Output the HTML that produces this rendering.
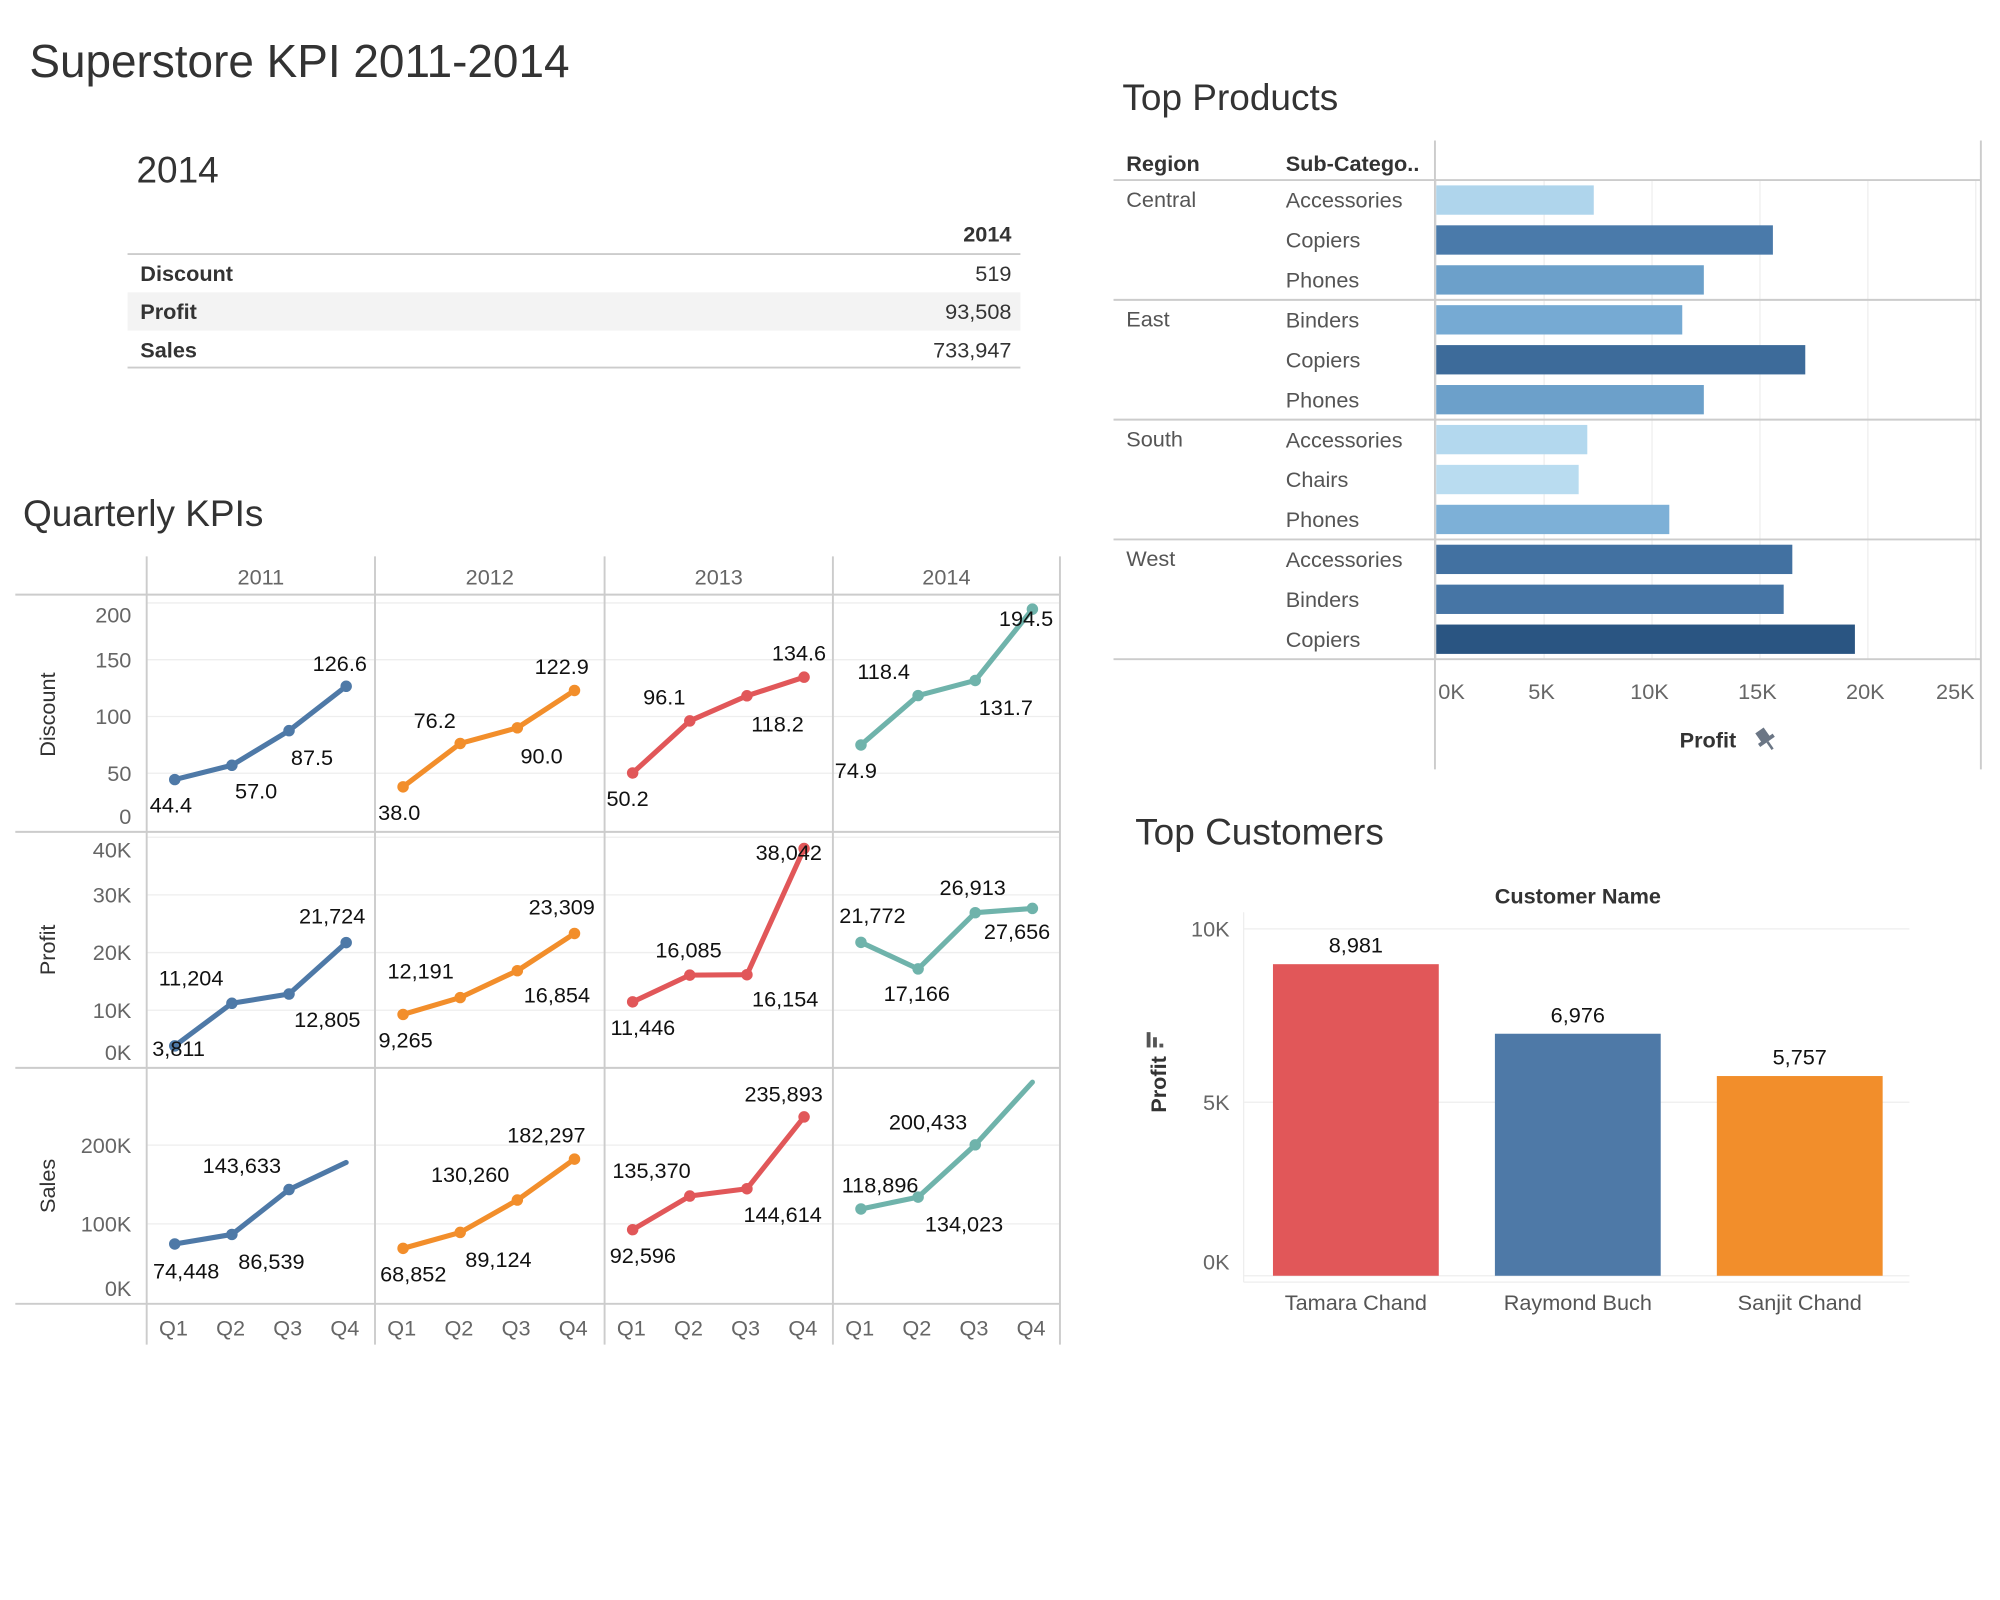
<!DOCTYPE html>
<html><head><meta charset="utf-8"><style>
html,body{margin:0;padding:0;background:#fff;}
svg{display:block;font-family:"Liberation Sans",sans-serif;}
</style></head><body>
<svg id="root" width="2000" height="1600" viewBox="0 0 1568 1254" xmlns="http://www.w3.org/2000/svg">
<text x="23" y="60" font-size="36" fill="#333">Superstore KPI 2011-2014</text>
<text x="107" y="143" font-size="29" fill="#333">2014</text>
<g font-size="17" fill="#333">
<text x="793" y="189" text-anchor="end" font-weight="bold">2014</text>
<line x1="100" y1="199" x2="800" y2="199" stroke="#ccc" stroke-width="1.5"/>
<rect x="100" y="229" width="700" height="30" fill="#f3f3f3"/>
<text x="110" y="220" font-weight="bold">Discount</text>
<text x="793" y="220" text-anchor="end">519</text>
<text x="110" y="250" font-weight="bold">Profit</text>
<text x="793" y="250" text-anchor="end">93,508</text>
<text x="110" y="280" font-weight="bold">Sales</text>
<text x="793" y="280" text-anchor="end">733,947</text>
<line x1="100" y1="288" x2="800" y2="288" stroke="#ccc" stroke-width="1.5"/>
</g>
<text x="18" y="412" font-size="29" fill="#333">Quarterly KPIs</text>
<g id="kpi"></g>
<text x="880" y="86" font-size="29" fill="#333">Top Products</text>
<g id="prod"></g>
<text x="890" y="662" font-size="29" fill="#333">Top Customers</text>
<g id="cust"></g>
</svg>
<script>
const years=["2011","2012","2013","2014"];
const quarters=["Q1","Q2","Q3","Q4"];
const yearColors=["#4e79a7","#f28e2b","#e15759","#6fb3ab"];
const discountValues=[[44.4,57.0,87.5,126.6],[38.0,76.2,90.0,122.9],[50.2,96.1,118.2,134.6],[74.9,118.4,131.7,194.5]];
const profitValues=[[3811,11204,12805,21724],[9265,12191,16854,23309],[11446,16085,16154,38042],[21772,17166,26913,27656]];
const salesValues=[[74448,86539,143633,178000],[68852,89124,130260,182297],[92596,135370,144614,235893],[118896,134023,200433,280000]];
const salesLabeled=[[1,1,1,0],[1,1,1,1],[1,1,1,1],[1,1,1,0]];
const discountTicks=[0,50,100,150,200];
const profitTicks=[0,10000,20000,30000,40000];
const salesTicks=[0,100000,200000];
const labelOffsets={discount:[[[-3,20],[19,20],[18,21],[-5,-18]],[[-3,20],[-20,-18],[19,22],[-10,-19]],[[-4,20],[-20,-19],[24,22],[-4,-19]],[[-4,20],[-27,-19],[24,21],[-5,7]]],
profit:[[[3,2],[-32,-20],[30,20],[-11,-21]],[[2,20],[-31,-21],[31,19],[-10,-21]],[[8,20],[-1,-20],[30,19],[-12,3]],[[9,-21],[-1,19],[-2,-20],[-12,18]]],
sales:[[[9,21],[31,21],[-37,-19],[0,0]],[[8,20],[30,21],[-37,-20],[-22,-19]],[[8,20],[-30,-20],[28,20],[-16,-18]],[[15,-19],[36,21],[-37,-18],[0,0]]]};
const productRegions=["Central","East","South","West"];
const productSubcats=[["Accessories","Copiers","Phones"],["Binders","Copiers","Phones"],["Accessories","Chairs","Phones"],["Accessories","Binders","Copiers"]];
const productProfit=[[7300,15600,12400],[11400,17100,12400],[7000,6600,10800],[16500,16100,19400]];
const productTicks=[0,5000,10000,15000,20000,25000];
const customerNames=["Tamara Chand","Raymond Buch","Sanjit Chand"];
const customerProfit=[8981,6976,5757];
const customerColors=["#e15759","#4e79a7","#f28e2b"];
const customerTicks=[0,5000,10000];

const NS="http://www.w3.org/2000/svg";
function mk(tag,attrs,parent,txt){const e=document.createElementNS(NS,tag);for(const k in attrs)e.setAttribute(k,attrs[k]);if(txt!==undefined)e.textContent=txt;parent.appendChild(e);return e;}
const fmt=v=>v.toLocaleString("en-US");
const fmtK=v=>(v/1000)+"K";

const kpi=document.getElementById('kpi');
const colX=[115,294,474,653,831];
const rows=[
 {name:"discount",title:"Discount",vals:discountValues,ticks:discountTicks,y0:650.5,k:0.89,top:468,bot:652,tf:v=>String(v),lf:v=>v.toFixed(1)},
 {name:"profit",title:"Profit",vals:profitValues,ticks:profitTicks,y0:837,k:0.00452,top:652,bot:837,tf:fmtK,lf:fmt},
 {name:"sales",title:"Sales",vals:salesValues,ticks:salesTicks,y0:1021,k:0.000617,top:837,bot:1022,tf:fmtK,lf:fmt}];
const xq=(c,i)=>colX[c]+22+i*44.8;
rows.forEach((r,ri)=>{
 const yv=v=>r.y0-v*r.k;
 r.ticks.forEach(t=>{
  const y=yv(t);
  if(t>0){const gl=mk('line',{x1:115,x2:831,y1:y,y2:y,stroke:"#eee","stroke-width":1},kpi);
   
   }
  const ty=Math.min(Math.max(y+6,r.top+20),r.bot-6);
  const tl=mk('text',{x:103,y:ty,"text-anchor":"end","font-size":17,fill:"#666"},kpi,r.tf(t));
  
  
 });
 const cy=(r.top+r.bot)/2;
 const rt=mk('text',{x:43,y:cy,transform:`rotate(-90 43 ${cy})`,"text-anchor":"middle","font-size":17,fill:"#333"},kpi,r.title);
 
 
});
[[12,466],[12,652],[12,837],[12,1022]].forEach(([x,y])=>{const l=mk('line',{x1:x,x2:831,y1:y,y2:y,stroke:"#ccc","stroke-width":1.5},kpi);});
colX.forEach(x=>{const l=mk('line',{x1:x,x2:x,y1:436,y2:1054,stroke:"#ccc","stroke-width":1.5},kpi);});
years.forEach((yr,c)=>{
 const h=mk('text',{x:(colX[c]+colX[c+1])/2,y:458,"text-anchor":"middle","font-size":17,fill:"#666"},kpi,yr);
 
 
 quarters.forEach((q,i)=>{
  const t=mk('text',{x:xq(c,i)-1,y:1047,"text-anchor":"middle","font-size":17,fill:"#666"},kpi,q);
  
  
 });
});
rows.forEach(r=>{
 const yv=v=>r.y0-v*r.k;
 years.forEach((yr,c)=>{
  const vals=r.vals[c];
  const pts=vals.map((v,i)=>[xq(c,i),yv(v)]);
  const pl=mk('polyline',{points:pts.map(p=>p.join(',')).join(' '),fill:"none",stroke:yearColors[c],"stroke-width":4,"stroke-linejoin":"round","stroke-linecap":"round"},kpi);
  
  
  vals.forEach((v,i)=>{
   const shown=r.name!=="sales"||salesLabeled[c][i];
   if(!shown)return;
   const d=mk('circle',{cx:pts[i][0],cy:pts[i][1],r:4.5,fill:yearColors[c]},kpi);
   
   
   const o=labelOffsets[r.name][c][i];
   const lb=mk('text',{x:pts[i][0]+o[0],y:pts[i][1]+o[1]+6,"text-anchor":"middle","font-size":17,fill:"#111"},kpi,r.lf(v));
   
   
  });
 });
});

const prod=document.getElementById('prod');
const px0=1126, pk=84.6/5000;
const px=v=>px0+v*pk;
productTicks.forEach(t=>{
 const g=mk('line',{x1:px(t),x2:px(t),y1:141,y2:517,stroke:"#eee","stroke-width":1},prod);
 
 
 const tx=t===0?1138:(t===25000?1533:px(t)-2);
 const tl=mk('text',{x:tx,y:548,"text-anchor":"middle","font-size":17,fill:"#666"},prod,fmtK(t));
 
 
});
const hr=mk('text',{x:883,y:134,"font-size":17,"font-weight":"bold",fill:"#333"},prod,"Region");

const hs=mk('text',{x:1008,y:134,"font-size":17,"font-weight":"bold",fill:"#333"},prod,"Sub-Catego..");

mk('line',{x1:873,x2:1553,y1:141,y2:141,stroke:"#ccc","stroke-width":1.5},prod);
mk('line',{x1:1125,x2:1125,y1:110,y2:603,stroke:"#ccc","stroke-width":1.5},prod);
mk('line',{x1:1553,x2:1553,y1:110,y2:603,stroke:"#ccc","stroke-width":1.5},prod);
function lerpColor(v){
 const stops=[[6600,[185,220,240]],[11000,[122,174,214]],[12400,[108,160,202]],[15600,[74,122,170]],[19400,[42,85,130]]];
 if(v<=stops[0][0])return `rgb(${stops[0][1].join(',')})`;
 for(let i=1;i<stops.length;i++){if(v<=stops[i][0]){const [v0,a]=stops[i-1],[v1,b]=stops[i];const t=(v-v0)/(v1-v0);return `rgb(${a.map((x,j)=>Math.round(x+(b[j]-x)*t)).join(',')})`;}}
 return `rgb(${stops[stops.length-1][1].join(',')})`;}
const rowH=31.3;
productRegions.forEach((reg,g)=>{
 const gy=141+g*3*rowH;
 const rl=mk('text',{x:883,y:gy+21,"font-size":17,fill:"#555"},prod,reg);
 
 
 const sep=mk('line',{x1:873,x2:1553,y1:gy+3*rowH,y2:gy+3*rowH,stroke:"#ccc","stroke-width":1.5},prod);
 
 
 productSubcats[g].forEach((s,i)=>{
  const cy=gy+i*rowH+rowH/2;
  const sl=mk('text',{x:1008,y:cy+6,"font-size":17,fill:"#555"},prod,s);
  
  
  const v=productProfit[g][i];
  const b=mk('rect',{x:px0,y:cy-11.5,width:px(v)-px0,height:23,fill:lerpColor(v)},prod);
  
  
 });
});
const pt=mk('text',{x:1339,y:586,"text-anchor":"middle","font-size":17,"font-weight":"bold",fill:"#333"},prod,"Profit");

const pin=mk('g',{transform:"translate(1384 579) rotate(-35)"},prod);


mk('rect',{x:-4,y:-8,width:8,height:9,fill:"#6b7685"},pin);
mk('rect',{x:-7,y:0,width:14,height:3,fill:"#6b7685"},pin);
mk('rect',{x:-1,y:3,width:2,height:7,fill:"#6b7685"},pin);

const cust=document.getElementById('cust');
const cy0=1000, ck=27.2/1000;
const cyv=v=>cy0-v*ck;
const ch=mk('text',{x:1237,y:708,"text-anchor":"middle","font-size":17,"font-weight":"bold",fill:"#333"},cust,"Customer Name");

customerTicks.forEach(t=>{
 const y=cyv(t);
 const g=mk('line',{x1:975,x2:1497,y1:y,y2:y,stroke:"#eee","stroke-width":1},cust);
 
 
 const tl=mk('text',{x:964,y:y+(t===0?-5:6),"text-anchor":"end","font-size":17,fill:"#666"},cust,fmtK(t));
 
 
});
mk('line',{x1:975,x2:975,y1:715,y2:1005,stroke:"#eee","stroke-width":1},cust);
mk('line',{x1:975,x2:1497,y1:1005,y2:1005,stroke:"#eee","stroke-width":1},cust);
const bw=130, slot=174, bx0=998;
customerNames.forEach((n,i)=>{
 const x=bx0+i*slot, v=customerProfit[i];
 const b=mk('rect',{x:x,y:cyv(v),width:bw,height:cy0-cyv(v),fill:customerColors[i]},cust);
 
 
 const vl=mk('text',{x:x+bw/2,y:cyv(v)-9,"text-anchor":"middle","font-size":17,fill:"#111"},cust,fmt(v));
 
 
 const nl=mk('text',{x:x+bw/2,y:1027,"text-anchor":"middle","font-size":17,fill:"#555"},cust,n);
 
 
});
const yt=mk('text',{x:914,y:850,transform:"rotate(-90 914 850)","text-anchor":"middle","font-size":17,"font-weight":"bold",fill:"#333"},cust,"Profit");

const si=mk('g',{},cust);

mk('rect',{x:899,y:809,width:3,height:12,fill:"#555"},si);
mk('rect',{x:904,y:813,width:3,height:8,fill:"#555"},si);
mk('rect',{x:909,y:818,width:3,height:3,fill:"#555"},si);
</script>
</body></html>
